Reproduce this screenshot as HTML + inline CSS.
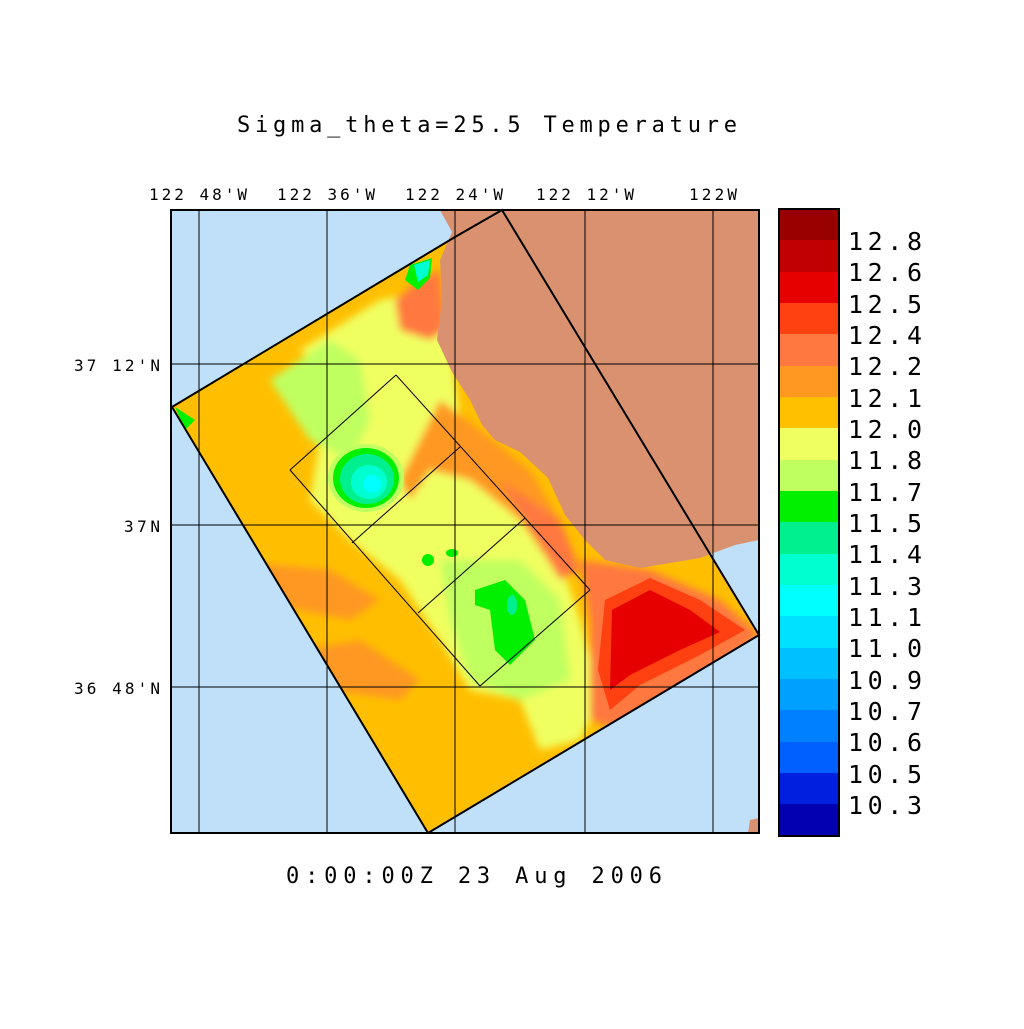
<!DOCTYPE html><html><head><style>body{margin:0;background:#fff}svg text{font-family:"DejaVu Sans Mono","Liberation Mono",monospace}</style></head><body>
<svg width="1024" height="1024" viewBox="0 0 1024 1024" xmlns="http://www.w3.org/2000/svg">
<rect width="1024" height="1024" fill="#fff"/>
<text x="237" y="132" font-size="22" textLength="500" lengthAdjust="spacing" fill="#000">Sigma_theta=25.5 Temperature</text>
<defs><clipPath id="d"><polygon points="172,407 455,237 502,210 759,635 428,833"/></clipPath>
<filter id="b"><feGaussianBlur stdDeviation="4"/></filter></defs>
<rect x="171" y="210" width="588" height="623" fill="#c0e0fa"/>
<g clip-path="url(#d)">
<rect x="150" y="200" width="620" height="640" fill="#ffbf00"/>
<g filter="url(#b)">
<path d="M300,350 L380,300 L430,290 L450,340 L460,420 L520,470 L540,520 L560,560 L580,620 L600,700 L580,740 L540,750 L520,700 L470,690 L440,640 L400,580 L350,540 L310,500 L320,440 L360,430 L340,390Z" fill="#f0ff60"/>
<path d="M270,380 L330,340 L360,360 L370,420 L350,460 L310,440Z" fill="#c0ff60"/>
<path d="M440,560 L520,560 L560,600 L570,680 L520,700 L470,680 L450,620Z" fill="#c0ff60"/>
<path d="M420,280 L440,270 L445,330 L430,340 L400,330 L395,300Z" fill="#ff7840"/>
<path d="M440,400 L480,430 L530,470 L560,520 L575,560 L555,570 L520,520 L470,480 L430,470 L410,500 L400,480Z" fill="#ff9820"/>
<path d="M500,480 L560,520 L580,570 L560,580 L530,530Z" fill="#ff7840"/>
<path d="M580,560 L650,570 L720,600 L760,635 L700,680 L620,730 L590,720 L590,620Z" fill="#ff7840"/>
<path d="M300,650 L360,640 L420,680 L400,700 L330,690Z" fill="#ff9820"/>
<path d="M220,560 L330,570 L380,600 L350,620 L250,600Z" fill="#ff9820"/>
</g>
<path d="M605,600 L650,578 L700,600 L745,630 L700,655 L640,685 L610,710 L598,670Z" fill="#ff4010"/>
<path d="M612,610 L650,590 L690,610 L720,632 L680,650 L630,675 L610,690Z" fill="#e60000"/>
<ellipse cx="366" cy="478" rx="38" ry="34" fill="#c0ff60"/>
<ellipse cx="366" cy="478" rx="33" ry="30" fill="#00f000"/>
<ellipse cx="367" cy="479" rx="27" ry="25" fill="#00f090"/>
<ellipse cx="369" cy="482" rx="18" ry="17" fill="#00ffd0"/>
<ellipse cx="372" cy="484" rx="9" ry="9" fill="#00ffff"/>
<path d="M475,590 L505,580 L525,600 L535,640 L510,665 L495,650 L490,610 L475,605Z" fill="#00f000"/>
<ellipse cx="512" cy="605" rx="5" ry="10" fill="#00f090"/>
<path d="M410,265 L432,258 L430,278 L418,290 L405,280Z" fill="#00f000"/>
<path d="M414,265 L430,260 L428,275 L418,282Z" fill="#00ffd0"/>
<ellipse cx="428" cy="560" rx="6" ry="6" fill="#00f000"/>
<ellipse cx="452" cy="553" rx="6" ry="4" fill="#00f000"/>
<path d="M175,407 L195,420 L185,430Z" fill="#00f000"/>
</g>
<path d="M440,210 L452,232 L440,260 L442,300 L437,340 L452,372 L470,400 L482,425 L495,440 L520,452 L548,478 L565,515 L585,540 L605,560 L640,568 L700,558 L735,545 L759,540 L759,210Z" fill="#d9916f"/>
<path d="M748,833 L750,820 L759,818 L759,833Z" fill="#d9916f"/>
<polygon points="172,407 455,237 502,210 759,635 428,833" fill="none" stroke="#000" stroke-width="2"/>
<g stroke="#000" stroke-width="1" fill="none">
<line x1="199" y1="210" x2="199" y2="833"/><line x1="327" y1="210" x2="327" y2="833"/><line x1="455" y1="210" x2="455" y2="833"/><line x1="585" y1="210" x2="585" y2="833"/><line x1="713" y1="210" x2="713" y2="833"/>
<line x1="171" y1="364" x2="759" y2="364"/><line x1="171" y1="525" x2="759" y2="525"/><line x1="171" y1="687" x2="759" y2="687"/>
<line x1="396" y1="375" x2="590" y2="590"/><line x1="290" y1="470" x2="480" y2="686"/>
<line x1="290" y1="470" x2="396" y2="375"/><line x1="352" y1="543" x2="460" y2="447"/><line x1="418" y1="613" x2="525" y2="518"/><line x1="480" y1="686" x2="590" y2="590"/>
</g>
<rect x="171" y="210" width="588" height="623" fill="none" stroke="#000" stroke-width="2"/>
<g font-size="16" fill="#000">
<text x="149" y="200" textLength="98" lengthAdjust="spacing">122 48'W</text><text x="277" y="200" textLength="98" lengthAdjust="spacing">122 36'W</text><text x="405" y="200" textLength="98" lengthAdjust="spacing">122 24'W</text><text x="536" y="200" textLength="98" lengthAdjust="spacing">122 12'W</text><text x="689" y="200" textLength="48" lengthAdjust="spacing">122W</text>
<text x="74" y="371" textLength="86" lengthAdjust="spacing">37 12'N</text><text x="124" y="532" textLength="36" lengthAdjust="spacing">37N</text><text x="74" y="694" textLength="86" lengthAdjust="spacing">36 48'N</text>
</g>
<text x="286" y="883" font-size="22" textLength="376" lengthAdjust="spacing">0:00:00Z  23 Aug 2006</text>
<g>
<rect x="779" y="209" width="60" height="32" fill="#990000"/><rect x="779" y="240" width="60" height="32" fill="#c00000"/><rect x="779" y="272" width="60" height="32" fill="#e60000"/><rect x="779" y="303" width="60" height="32" fill="#ff4010"/><rect x="779" y="334" width="60" height="32" fill="#ff7840"/><rect x="779" y="366" width="60" height="32" fill="#ff9820"/><rect x="779" y="397" width="60" height="32" fill="#ffc000"/><rect x="779" y="428" width="60" height="32" fill="#f0ff60"/><rect x="779" y="460" width="60" height="32" fill="#c0ff60"/><rect x="779" y="491" width="60" height="32" fill="#00f000"/><rect x="779" y="522" width="60" height="32" fill="#00f090"/><rect x="779" y="554" width="60" height="32" fill="#00ffd0"/><rect x="779" y="585" width="60" height="32" fill="#00ffff"/><rect x="779" y="616" width="60" height="32" fill="#00e0ff"/><rect x="779" y="648" width="60" height="32" fill="#00c0ff"/><rect x="779" y="679" width="60" height="32" fill="#00a0ff"/><rect x="779" y="710" width="60" height="32" fill="#0080ff"/><rect x="779" y="742" width="60" height="32" fill="#0060ff"/><rect x="779" y="773" width="60" height="32" fill="#0020e0"/><rect x="779" y="804" width="60" height="32" fill="#0000b0"/>
<rect x="779" y="209" width="60" height="627" fill="none" stroke="#000" stroke-width="2"/>
</g>
<g font-size="25" fill="#000">
<text x="848" y="250" textLength="74" lengthAdjust="spacing">12.8</text><text x="848" y="281" textLength="74" lengthAdjust="spacing">12.6</text><text x="848" y="313" textLength="74" lengthAdjust="spacing">12.5</text><text x="848" y="344" textLength="74" lengthAdjust="spacing">12.4</text><text x="848" y="375" textLength="74" lengthAdjust="spacing">12.2</text><text x="848" y="407" textLength="74" lengthAdjust="spacing">12.1</text><text x="848" y="438" textLength="74" lengthAdjust="spacing">12.0</text><text x="848" y="469" textLength="74" lengthAdjust="spacing">11.8</text><text x="848" y="501" textLength="74" lengthAdjust="spacing">11.7</text><text x="848" y="532" textLength="74" lengthAdjust="spacing">11.5</text><text x="848" y="563" textLength="74" lengthAdjust="spacing">11.4</text><text x="848" y="595" textLength="74" lengthAdjust="spacing">11.3</text><text x="848" y="626" textLength="74" lengthAdjust="spacing">11.1</text><text x="848" y="657" textLength="74" lengthAdjust="spacing">11.0</text><text x="848" y="689" textLength="74" lengthAdjust="spacing">10.9</text><text x="848" y="720" textLength="74" lengthAdjust="spacing">10.7</text><text x="848" y="751" textLength="74" lengthAdjust="spacing">10.6</text><text x="848" y="783" textLength="74" lengthAdjust="spacing">10.5</text><text x="848" y="814" textLength="74" lengthAdjust="spacing">10.3</text>
</g>
</svg></body></html>
